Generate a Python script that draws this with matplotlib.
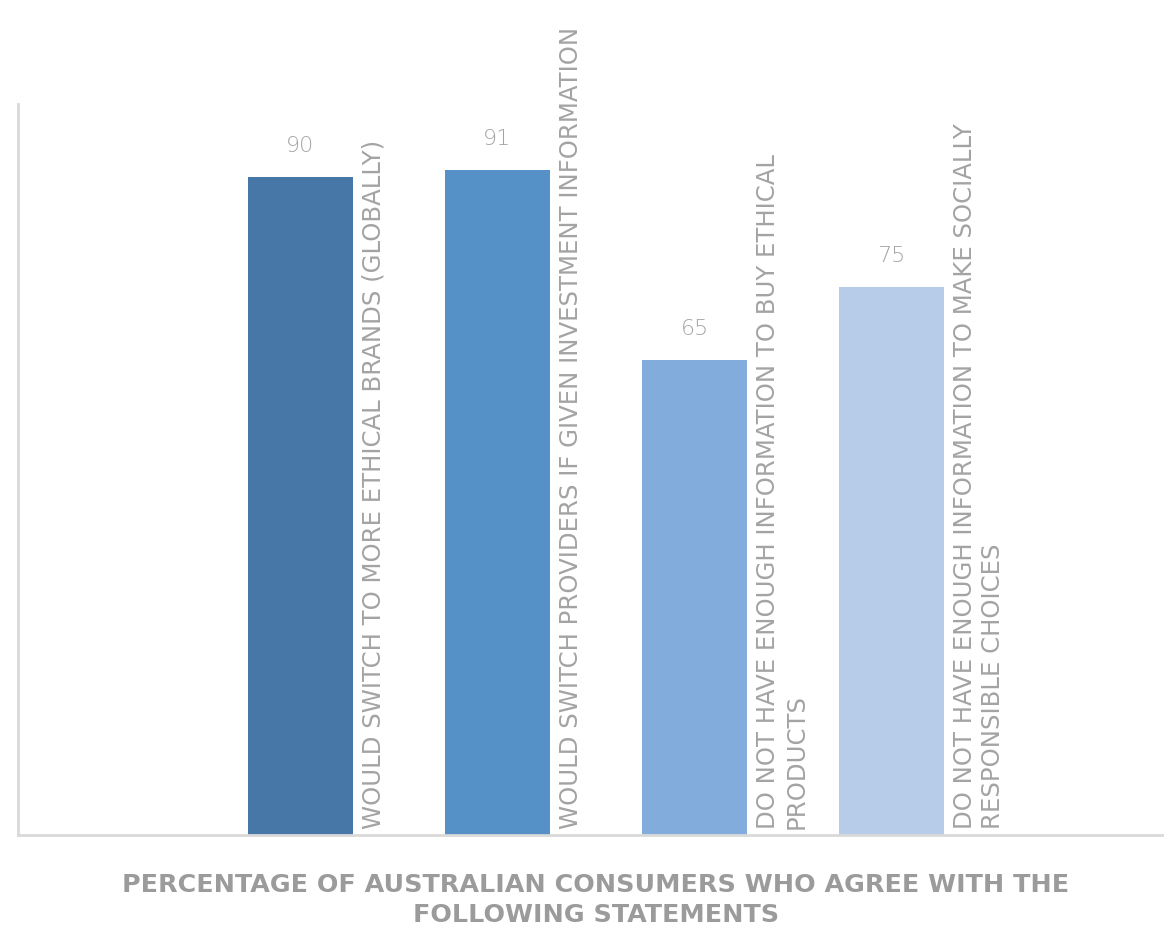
import matplotlib
matplotlib.use("Agg")
import matplotlib.pyplot as plt

statements = [
    "WOULD SWITCH TO MORE ETHICAL BRANDS (GLOBALLY)",
    "WOULD SWITCH PROVIDERS IF GIVEN INVESTMENT INFORMATION",
    "DO NOT HAVE ENOUGH INFORMATION TO BUY ETHICAL\nPRODUCTS",
    "DO NOT HAVE ENOUGH INFORMATION TO MAKE SOCIALLY\nRESPONSIBLE CHOICES",
]
values = [90, 91, 65, 75]
colors = ["#4677a6", "#5590c6", "#82acdb", "#b7cce8"]
title = "PERCENTAGE OF AUSTRALIAN CONSUMERS WHO AGREE WITH THE\nFOLLOWING STATEMENTS"

W, H = 1164, 928
fig = plt.figure(figsize=(W / 100, H / 100), dpi=100)
ax = fig.add_axes([18 / W, 1 - 836 / H, (1174 - 18) / W, (836 - 105) / H])

x = list(range(len(values)))
ax.bar(x, values, width=0.535, color=colors, zorder=2)
ax.set_ylim(0, 100)
ax.set_xlim(-1.434, 4.434)

gray = "#a3a3a3"
for xi, v, s in zip(x, values, statements):
    ax.annotate(str(v), (xi, v), xytext=(0, 16), textcoords="offset points",
                ha="center", va="bottom", fontsize=16, color=gray,
                family="DejaVu Sans", fontweight="light")
    ax.annotate(s, (xi + 0.535 / 2, 0), xytext=(6, 5), textcoords="offset points",
                rotation=90, ha="left", va="bottom", rotation_mode="default",
                fontsize=17.6, color=gray, family="DejaVu Sans",
                linespacing=1.25, multialignment="left")

for side in ["top", "right"]:
    ax.spines[side].set_visible(False)
for side in ["left", "bottom"]:
    ax.spines[side].set_color("#d9d9d9")
    ax.spines[side].set_linewidth(2)
ax.set_xticks([])
ax.set_yticks([])

fig.text(596 / W, 1 - 900 / H, title, ha="center", va="center",
         fontsize=18.3, fontweight="bold", color="#9b9b9b",
         family="DejaVu Sans", linespacing=1.35)

fig.savefig("out.png", dpi=100)
